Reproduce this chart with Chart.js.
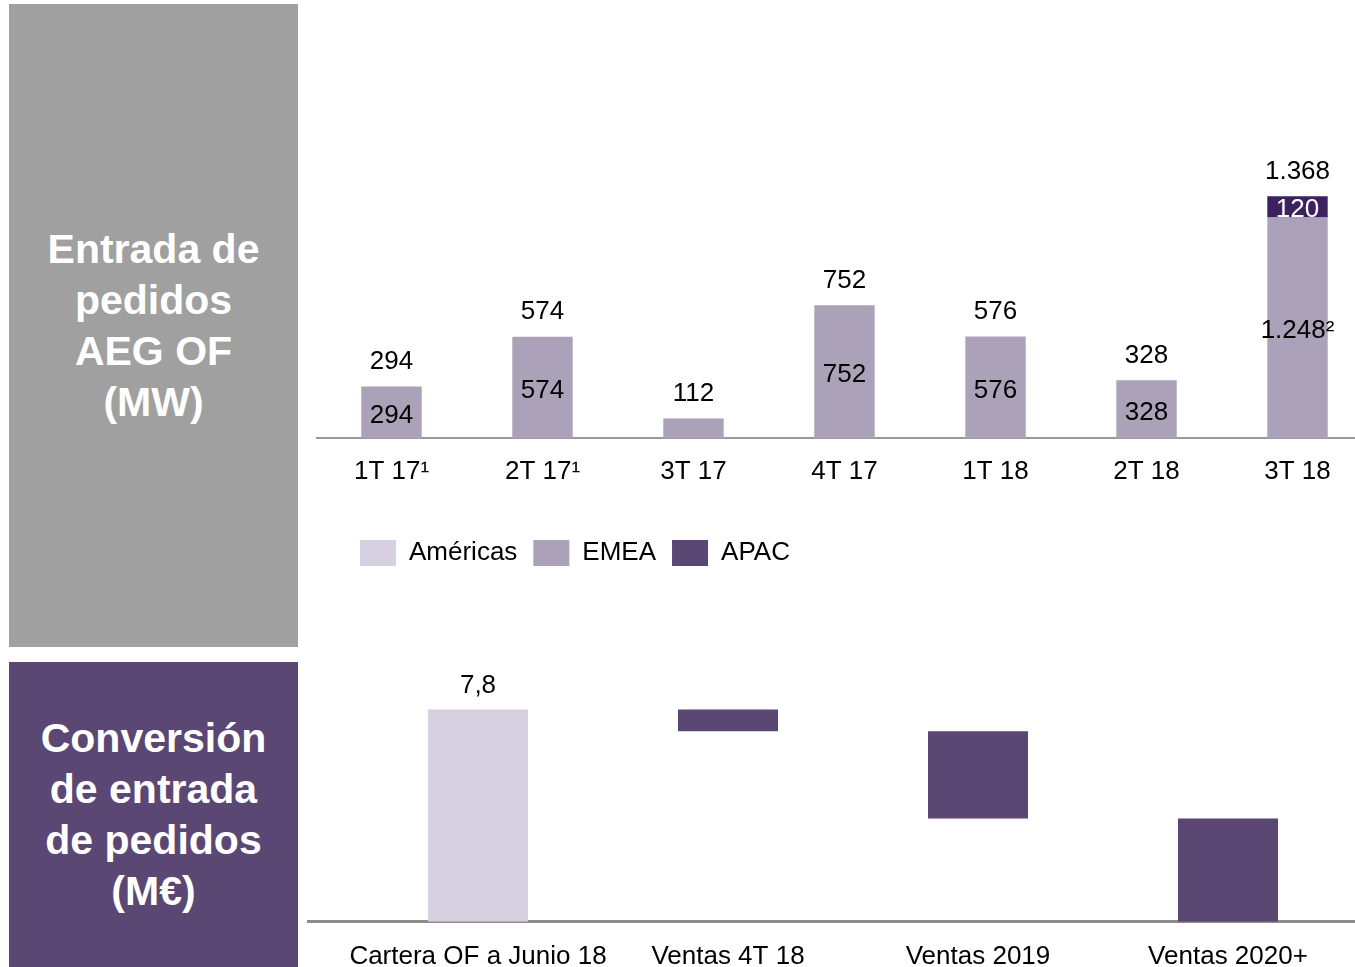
<!DOCTYPE html>
<html lang="es">
<head>
<meta charset="utf-8">
<title>Entrada de pedidos AEG OF</title>
<script src="https://cdn.jsdelivr.net/npm/chart.js@4.4.1/dist/chart.umd.min.js"></script>
<style>
    html, body { margin: 0; padding: 0; background: #fff; }
    body { width: 1355px; height: 967px; position: relative; overflow: hidden; font-family: "Liberation Sans", Arial, sans-serif; }
    .panel { position: absolute; left: 9px; width: 289px; display: flex; align-items: center; justify-content: center;
             text-align: center; color: #fff; font-weight: bold; font-size: 41px; line-height: 51px; }
    #panelTop { top: 4px; height: 643px; background: #a0a0a0; }
    #panelBottom { top: 662px; height: 305px; background: #5a4773; }
    #wrapTop { position: absolute; left: 316px; top: 150px; width: 1057px; height: 426px; }
    #wrapBottom { position: absolute; left: 307px; top: 666px; width: 1048px; height: 325px; }
</style>
</head>
<body>
<div class="panel" id="panelTop"><div>Entrada de<br>pedidos<br>AEG OF<br>(MW)</div></div>
<div class="panel" id="panelBottom"><div>Conversión<br>de entrada<br>de pedidos<br>(M€)</div></div>
<div id="wrapTop"><canvas id="ordersChart"></canvas></div>
<div id="wrapBottom"><canvas id="conversionChart"></canvas></div>

<script>
// pedidos por trimestre (MW)
const quarters = ['1T 17¹', '2T 17¹', '3T 17', '4T 17', '1T 18', '2T 18', '3T 18'];
const americas = [0, 0, 0, 0, 0, 0, 0];
const emea = [294, 574, 112, 752, 576, 328, 1248];
const apac = [0, 0, 0, 0, 0, 0, 120];
const emeaNotes = ['', '', '', '', '', '', '²'];

// conversión de la cartera (M€)
const convLabels = ['Cartera OF a Junio 18', 'Ventas 4T 18', 'Ventas 2019', 'Ventas 2020+'];
const convValues = [7.8, -0.8, -3.2, -3.8];

const FONT = '"Liberation Sans", Arial, sans-serif';
const legendColors = ['#d6d0e0', '#aba1b8', '#5a4773'];

function fmtNum(v, dec) {
    const parts = Math.abs(v).toFixed(dec).split('.');
    parts[0] = parts[0].replace(/\B(?=(\d{3})+(?!\d))/g, '.');
    return parts.join(',');
}

// mueve la leyenda para que empiece bajo la primera barra
const legendShift = {
    id: 'legendShift',
    afterLayout(chart) {
        chart.legend.left += 28;
        chart.legend.right += 28;
    }
};

const stackLabels = {
    id: 'stackLabels',
    afterDatasetsDraw(chart) {
        const ctx = chart.ctx;
        const emeaMeta = chart.getDatasetMeta(1);
        const apacMeta = chart.getDatasetMeta(2);
        ctx.save();
        ctx.font = '26px ' + FONT;
        ctx.textAlign = 'center';
        ctx.textBaseline = 'middle';
        quarters.forEach((q, i) => {
            const seg = emeaMeta.data[i];
            const topEl = apac[i] > 0 ? apacMeta.data[i] : seg;
            const total = americas[i] + emea[i] + apac[i];
            ctx.fillStyle = '#000';
            ctx.fillText(fmtNum(total, 0), seg.x, topEl.y - 25);
            if (seg.base - seg.y > 30) {
                ctx.fillText(fmtNum(emea[i], 0) + emeaNotes[i], seg.x, (seg.y + seg.base) / 2 + 3);
            }
            if (apac[i] > 0) {
                const a = apacMeta.data[i];
                ctx.fillStyle = '#fff';
                ctx.fillText(fmtNum(apac[i], 0), a.x, (a.y + a.base) / 2 + 3);
            }
        });
        ctx.restore();
    }
};

new Chart(document.getElementById('ordersChart'), {
    type: 'bar',
    data: {
        labels: quarters,
        datasets: [
            { label: 'Américas', data: americas, backgroundColor: '#d6d0e0' },
            { label: 'EMEA', data: emea, backgroundColor: '#aba1b8' },
            { label: 'APAC', data: apac, backgroundColor: '#3b2160' }
        ]
    },
    options: {
        responsive: true,
        maintainAspectRatio: false,
        animation: false,
        datasets: { bar: { categoryPercentage: 1, barPercentage: 0.4 } },
        scales: {
            x: {
                stacked: true,
                grid: { display: false, drawTicks: false },
                border: { display: true, color: '#999999', width: 2 },
                ticks: { color: '#000', font: { size: 26, family: FONT }, padding: 18, maxRotation: 0, autoSkip: false }
            },
            y: { stacked: true, display: false, min: 0, max: 1630 }
        },
        plugins: {
            legend: {
                position: 'bottom',
                align: 'start',
                title: { display: true, text: '', padding: { top: 4, bottom: 0 } },
                labels: {
                    boxWidth: 36,
                    boxHeight: 26,
                    padding: 16,
                    color: '#000',
                    font: { size: 26, family: FONT },
                    generateLabels(chart) {
                        const items = Chart.defaults.plugins.legend.labels.generateLabels(chart);
                        items.forEach((it, k) => {
                            it.fillStyle = legendColors[k];
                            it.strokeStyle = legendColors[k];
                            it.lineWidth = 0;
                        });
                        return items;
                    }
                }
            },
            tooltip: { enabled: false }
        }
    },
    plugins: [legendShift, stackLabels]
});

// cascada: cada barra va del acumulado anterior al nuevo
let running = 0;
const convBars = convValues.map((v, i) => {
    const start = running;
    running += v;
    return { x: i, y: [start, running] };
});

const startLabel = {
    id: 'startLabel',
    afterDatasetsDraw(chart) {
        const ctx = chart.ctx;
        const bar = chart.getDatasetMeta(0).data[0];
        ctx.save();
        ctx.font = '26px ' + FONT;
        ctx.textAlign = 'center';
        ctx.textBaseline = 'middle';
        ctx.fillStyle = '#000';
        ctx.fillText(fmtNum(convValues[0], 1), bar.x, bar.y - 24);
        ctx.restore();
    }
};

new Chart(document.getElementById('conversionChart'), {
    type: 'bar',
    data: {
        datasets: [{
            label: 'Conversión',
            data: convBars,
            backgroundColor: convValues.map((v, i) => i === 0 ? '#d6d0e0' : '#5a4773'),
            categoryPercentage: 1,
            barPercentage: 0.4
        }]
    },
    options: {
        responsive: true,
        maintainAspectRatio: false,
        animation: false,
        scales: {
            x: {
                type: 'linear',
                offset: false,
                min: -0.684,
                max: 3.508,
                afterBuildTicks(scale) {
                    scale.ticks = convLabels.map((l, i) => ({ value: i }));
                },
                grid: { display: false, drawTicks: false },
                border: { display: true, color: '#8c8c8c', width: 3 },
                ticks: {
                    color: '#000',
                    font: { size: 26, family: FONT },
                    padding: 19,
                    maxRotation: 0,
                    autoSkip: false,
                    callback: (v) => convLabels[v] !== undefined ? convLabels[v] : ''
                }
            },
            y: { display: false, min: 0, max: 9.4 }
        },
        plugins: {
            legend: { display: false },
            tooltip: { enabled: false }
        }
    },
    plugins: [startLabel]
});
</script>
</body>
</html>
